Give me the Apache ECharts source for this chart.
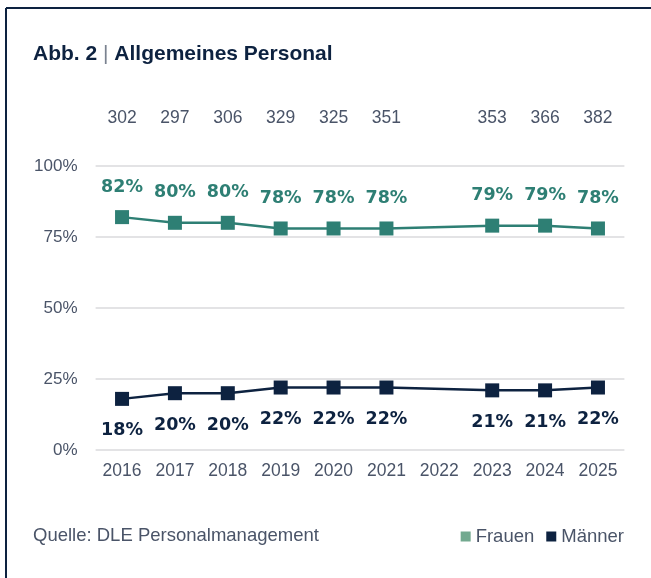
<!DOCTYPE html>
<html><head><meta charset="utf-8">
<script src="https://cdn.jsdelivr.net/npm/echarts@6/dist/echarts.min.js"></script>
<style>html,body{margin:0;padding:0;background:#fff}#c{width:651px;height:578px}</style>
</head><body><div id="c"></div>
<script>
const years = ['2016','2017','2018','2019','2020','2021','2022','2023','2024','2025'];
const totals = ['302','297','306','329','325','351','','353','366','382'];
const frauen = [82, 80, 80, 78, 78, 78, null, 79, 79, 78];
const maenner = [18, 20, 20, 22, 22, 22, null, 21, 21, 22];
const yTicks = [0, 25, 50, 75, 100];

const teal = '#2E7F74', navy = '#0D2240', grey = '#4A5468';
const chart = echarts.init(document.getElementById('c'), null, {renderer:'canvas'});
chart.setOption({
  animation: false,
  backgroundColor: '#fff',
  textStyle: {fontFamily: 'Liberation Sans'},
  graphic: [
    {type:'line', shape:{x1:6, y1:8, x2:651, y2:8}, style:{stroke:navy, lineWidth:2}},
    {type:'line', shape:{x1:6, y1:8, x2:6, y2:578}, style:{stroke:navy, lineWidth:2}},
    {type:'text', left:33, top:44, style:{
      text:'{a|Abb. 2}{s| | }{a|Allgemeines Personal}',
      rich:{a:{fontSize:21, fontWeight:'bold', fill:navy, fontFamily:'Liberation Sans'},
            s:{fontSize:21, fill:'#7a8290', fontFamily:'Liberation Sans', fontWeight:'normal'}}}},
    {type:'text', left:33, top:526, style:{text:'Quelle: DLE Personalmanagement', fontSize:18.5, fill:grey, fontFamily:'Liberation Sans'}}
  ],
  legend: {
    right: 22, top: 522, itemWidth: 10, itemHeight: 10, itemGap: 12, icon: 'rect',
    textStyle: {fontSize: 18.5, color: grey, fontFamily: 'Liberation Sans'},
    data: [
      {name:'Frauen', itemStyle:{color:'#72A98F'}},
      {name:'Männer', itemStyle:{color:navy}}
    ]
  },
  grid: {left: 95.6, right: 26.6, top: 166, height: 284},
  xAxis: [
    {type:'category', data: years, boundaryGap: true,
     axisLine:{show:false}, axisTick:{show:false},
     axisLabel:{color:grey, fontSize:17.5, margin:12}},
    {type:'category', data: totals, position:'top', boundaryGap: true,
     axisLine:{show:false}, axisTick:{show:false},
     axisLabel:{color:grey, fontSize:17.5, margin:39, interval:0}}
  ],
  yAxis: {type:'value', min:0, max:100, interval:25,
    axisLine:{show:false}, axisTick:{show:false},
    splitLine:{lineStyle:{color:'#E3E3E5', width:2}},
    axisLabel:{color:grey, fontSize:17, margin:18, formatter: v => yTicks.includes(v) ? v + '%' : ''}},
  series: [
    {name:'Frauen', type:'line', data: frauen, connectNulls:true, symbol:'rect', symbolSize:14,
     itemStyle:{color:teal}, lineStyle:{color:teal, width:2.5},
     label:{show:true, position:'top', distance:14, formatter:'{c}%', color:teal, fontSize:17.5, fontWeight:'bold', fontFamily:'DejaVu Sans'}},
    {name:'Männer', type:'line', data: maenner, connectNulls:true, symbol:'rect', symbolSize:14,
     itemStyle:{color:navy}, lineStyle:{color:navy, width:2.5},
     label:{show:true, position:'bottom', distance:16, formatter:'{c}%', color:navy, fontSize:17.5, fontWeight:'bold', fontFamily:'DejaVu Sans'}}
  ]
});
</script></body></html>
